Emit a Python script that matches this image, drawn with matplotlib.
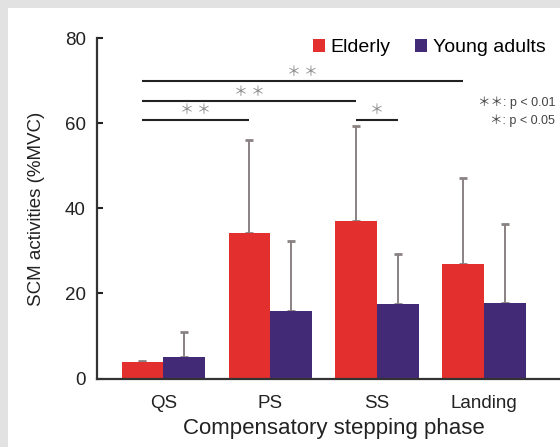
import matplotlib
matplotlib.use("Agg")
import matplotlib.pyplot as plt
import numpy as np
from matplotlib.patches import Rectangle

plt.rcParams["font.family"] = ["Liberation Sans", "Noto Sans CJK JP", "DejaVu Sans"]

phases = ["QS", "PS", "SS", "Landing"]
elderly = [3.9, 34.1, 37.1, 26.9]
elderly_sd = [0.2, 22.1, 22.3, 20.3]
young = [5.1, 15.8, 17.6, 17.8]
young_sd = [5.8, 16.5, 11.6, 18.6]

# significance brackets: (phase a, group a, phase b, group b, height, label)
# group 0 = elderly, 1 = young
brackets = [
    (0, 0, 3, 0, 69.9, "＊ ＊"),
    (0, 0, 2, 0, 65.3, "＊ ＊"),
    (0, 0, 1, 0, 60.9, "＊ ＊"),
    (2, 0, 2, 1, 60.9, "＊"),
]

red = "#e3302e"
navy = "#432a76"
err_col = "#8a8282"
w = 0.39

fig = plt.figure(figsize=(5.6, 4.47), dpi=100, facecolor="#e2e2e2")
bg = Rectangle((8 / 560, 0), 1, 1 - 8 / 447, transform=fig.transFigure,
               facecolor="white", edgecolor="none", zorder=-10)
fig.add_artist(bg)
ax = fig.add_axes([97 / 560, 68.5 / 447, 1 - 97 / 560, (378.5 - 38.3) / 447])
ax.set_facecolor("none")

x = np.arange(len(phases))
ax.bar(x - w / 2, elderly, w, color=red, label="Elderly", zorder=2)
ax.bar(x + w / 2, young, w, color=navy, label="Young adults", zorder=2)
ekw = dict(fmt="none", ecolor=err_col, elinewidth=1.4, capsize=3, capthick=2, zorder=1)
ax.errorbar(x - w / 2, elderly, yerr=[np.zeros(4), elderly_sd], **ekw)
ax.errorbar(x + w / 2, young, yerr=[np.zeros(4), young_sd], **ekw)

for pa, ga, pb, gb, h, lab in brackets:
    xa = pa + (ga - 0.5) * w
    xb = pb + (gb - 0.5) * w
    ax.plot([xa, xb], [h, h], color="#222222", lw=1.5, solid_capstyle="butt", zorder=3)
    ax.text((xa + xb) / 2, h + 0.5, lab, ha="center", va="bottom", fontsize=10,
            color="#8a8a8a", family=["Noto Sans CJK JP", "DejaVu Sans"])

ax.set_xlim(-0.62, 3.71)
ax.set_ylim(0, 80)
ax.set_yticks([0, 20, 40, 60, 80])
ax.set_xticks(x)
ax.set_xticklabels(phases)
ax.tick_params(axis="x", length=0, labelsize=13.5, pad=12, colors="#222222")
ax.tick_params(axis="y", direction="in", length=4, width=1.5, labelsize=13.5,
               pad=8, colors="#222222")
for s in ["top", "right"]:
    ax.spines[s].set_visible(False)
for s in ["left", "bottom"]:
    ax.spines[s].set_linewidth(1.6)
    ax.spines[s].set_color("#333333")

ax.set_xlabel("Compensatory stepping phase", fontsize=16, color="#222222")
ax.xaxis.set_label_coords((334 - 97) / 463, -39 / 340)
ax.set_ylabel("SCM activities (%MVC)", fontsize=13.5, color="#222222", labelpad=14)

ax.legend(loc="upper right", bbox_to_anchor=(0.986, 1.02), ncol=2, frameon=False,
          fontsize=14, handlelength=0.6, handleheight=0.6, handletextpad=0.3,
          columnspacing=1.27, borderaxespad=0)

note_font = ["Liberation Sans", "Noto Sans CJK JP", "DejaVu Sans"]
fig.text(555 / 560, 1 - 103 / 447, "＊＊: p < 0.01", ha="right", va="center",
         fontsize=9, color="#444444", family=note_font)
fig.text(555 / 560, 1 - 121 / 447, "＊: p < 0.05", ha="right", va="center",
         fontsize=9, color="#444444", family=note_font)

fig.savefig("out.png", dpi=100, facecolor=fig.get_facecolor())
